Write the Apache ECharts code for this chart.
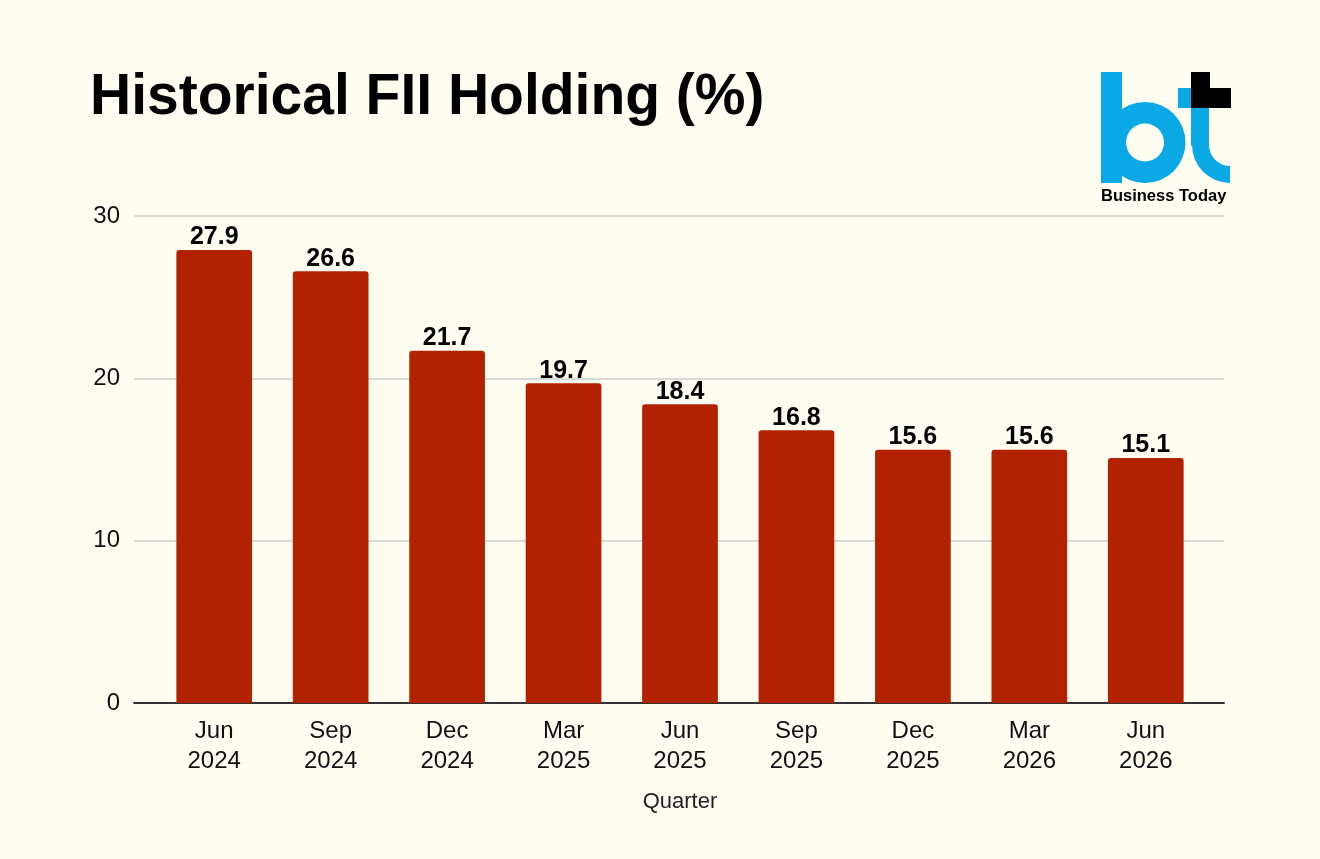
<!DOCTYPE html>
<html>
<head>
<meta charset="utf-8">
<title>Historical FII Holding (%)</title>
<script src="https://cdn.jsdelivr.net/npm/echarts@6/dist/echarts.min.js"></script>
<style>
  html, body { margin: 0; padding: 0; background: #fefdf0; }
  #chart { width: 1320px; height: 859px; }
</style>
</head>
<body>
<div id="chart"></div>
<script>
const quarters = ['Jun\n2024', 'Sep\n2024', 'Dec\n2024', 'Mar\n2025', 'Jun\n2025', 'Sep\n2025', 'Dec\n2025', 'Mar\n2026', 'Jun\n2026'];
const fiiHolding = [27.9, 26.6, 21.7, 19.7, 18.4, 16.8, 15.6, 15.6, 15.1];
const yTicks = [0, 10, 20, 30];

const font = 'Liberation Sans, Arial, sans-serif';
const blue = '#0aa9e6';

// Business Today mark, drawn from plain shapes
const logo = [
  { type: 'rect', shape: { x: 1101, y: 72, width: 21, height: 111 }, style: { fill: blue } },
  { type: 'ring', shape: { cx: 1145, cy: 142.5, r: 40.5, r0: 19 }, style: { fill: blue } },
  { type: 'rect', shape: { x: 1178, y: 88, width: 14, height: 20 }, style: { fill: blue } },
  { type: 'rect', shape: { x: 1191, y: 108, width: 18, height: 38 }, style: { fill: blue } },
  { type: 'sector', shape: { cx: 1230, cy: 145, r: 38, r0: 21, startAngle: Math.PI / 2, endAngle: Math.PI }, style: { fill: blue } },
  { type: 'rect', shape: { x: 1191, y: 72, width: 19, height: 17 }, style: { fill: '#000' } },
  { type: 'rect', shape: { x: 1191, y: 88, width: 40, height: 20 }, style: { fill: '#000' } },
  { type: 'text', x: 1101, y: 188, style: { text: 'Business Today', fill: '#000', font: 'bold 16.5px ' + font } }
];

const chart = echarts.init(document.getElementById('chart'));

// grid 0 holds the bars, grid 1 the wider frame (gridlines, zero line, y labels)
chart.setOption({
  backgroundColor: '#fefdf0',
  animation: false,
  title: {
    text: 'Historical FII Holding (%)',
    left: 85,
    top: 65,
    textStyle: { fontFamily: font, fontWeight: 'bold', fontSize: 57, color: '#000' }
  },
  graphic: logo,
  grid: [
    { left: 156, right: 116, top: 216, bottom: 156 },
    { left: 134, right: 96, top: 216, bottom: 156 }
  ],
  xAxis: [{
    type: 'category',
    gridIndex: 0,
    data: quarters,
    name: 'Quarter',
    nameLocation: 'middle',
    nameGap: 88,
    nameTextStyle: { fontFamily: font, fontSize: 22, color: '#222' },
    axisLine: { show: false },
    axisTick: { show: false },
    axisLabel: { fontFamily: font, fontSize: 24, lineHeight: 30, color: '#111', margin: 13 }
  }, {
    type: 'category',
    gridIndex: 1,
    data: quarters,
    axisLine: { lineStyle: { color: '#333', width: 2 } },
    axisTick: { show: false },
    axisLabel: { show: false }
  }],
  yAxis: [{
    type: 'value',
    gridIndex: 0,
    min: yTicks[0],
    max: yTicks[yTicks.length - 1],
    interval: 10,
    show: false
  }, {
    type: 'value',
    gridIndex: 1,
    min: yTicks[0],
    max: yTicks[yTicks.length - 1],
    interval: 10,
    axisLine: { show: false },
    axisTick: { show: false },
    axisLabel: { fontFamily: font, fontSize: 24, color: '#111', margin: 14 },
    splitLine: { lineStyle: { color: '#cccccc', width: 1.5 } }
  }],
  series: [{
    type: 'bar',
    xAxisIndex: 0,
    yAxisIndex: 0,
    z: 3,
    data: fiiHolding,
    barCategoryGap: '35%',
    itemStyle: { color: '#b32200', borderRadius: [3, 3, 0, 0] },
    label: {
      show: true,
      position: 'top',
      distance: 0,
      fontFamily: font,
      fontWeight: 'bold',
      fontSize: 25,
      color: '#000'
    }
  }]
});
</script>
</body>
</html>
